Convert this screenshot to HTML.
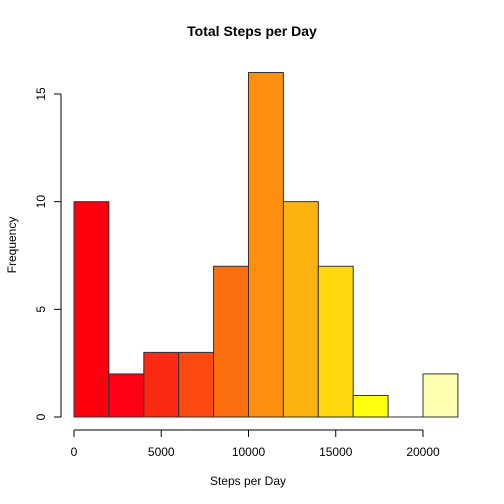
<!DOCTYPE html>
<html><head><meta charset="utf-8"><style>body{margin:0;background:#fff}svg{display:block;font-family:"Liberation Sans",Arial,sans-serif}</style></head>
<body>
<svg id="chart" width="504" height="504" viewBox="0 0 504 504">
<rect width="504" height="504" fill="#fff"/>
<text x="252" y="36" text-anchor="middle" font-size="14" font-weight="bold">Total Steps per Day</text>
<text x="248" y="485" text-anchor="middle" font-size="12">Steps per Day</text>
<text transform="translate(16,245) rotate(-90)" text-anchor="middle" font-size="12">Frequency</text>
<g id="bars"></g><g id="axes"></g>
</svg>
<script>
const binStarts=[0,2000,4000,6000,8000,10000,12000,14000,16000,18000,20000];
const binWidth=2000;
const counts=[10,2,3,3,7,16,10,7,1,0,2];
const colors=["#FD0010","#FD0012","#FB2A12","#FC4A10","#FD6E10","#FE8E0E","#FEB310","#FFD90E","#FFFF10","#FFFF60","#FFFFB0"];
const xTicks=[0,5000,10000,15000,20000];
const yTicks=[0,5,10,15];
const NS="http://www.w3.org/2000/svg";
const xs=v=>74+v*(349/20000);
const ys=v=>417-v*(323/15);
function mk(t,a,p){const e=document.createElementNS(NS,t);for(const k in a)e.setAttribute(k,a[k]);p.appendChild(e);return e;}
const bars=document.getElementById('bars'),axes=document.getElementById('axes');
counts.forEach((c,i)=>{
 if(c<=0){const l=mk('line',{x1:xs(binStarts[i]),x2:xs(binStarts[i]+binWidth),y1:ys(0),y2:ys(0),stroke:'#333'},bars);
 
 return;}
 const r=mk('rect',{x:xs(binStarts[i]),y:ys(c),width:xs(binStarts[i]+binWidth)-xs(binStarts[i]),height:ys(0)-ys(c),fill:colors[i],stroke:'#333','stroke-width':1},bars);
 
 
});
let l=mk('line',{x1:xs(xTicks[0]),x2:xs(xTicks[xTicks.length-1]),y1:430,y2:430,stroke:'#000'},axes);


xTicks.forEach(t=>{mk('line',{x1:xs(t),x2:xs(t),y1:430,y2:437,stroke:'#000'},axes);
 const tx=mk('text',{x:xs(t),y:456,'text-anchor':'middle','font-size':12},axes);tx.textContent=t;
 
 });
l=mk('line',{x1:61,x2:61,y1:ys(yTicks[0]),y2:ys(yTicks[yTicks.length-1]),stroke:'#000'},axes);


yTicks.forEach(t=>{mk('line',{x1:54,x2:61,y1:ys(t),y2:ys(t),stroke:'#000'},axes);
 const tx=mk('text',{transform:`translate(45,${ys(t)}) rotate(-90)`,'text-anchor':'middle','font-size':12},axes);tx.textContent=t;
 
 });
</script>
</body></html>
